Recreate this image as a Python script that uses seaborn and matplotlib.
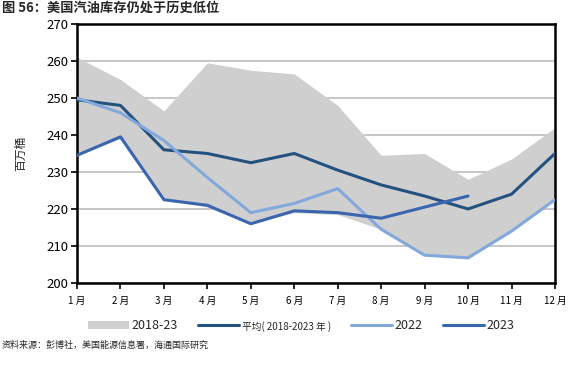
import matplotlib
matplotlib.use("Agg")
import matplotlib.pyplot as plt
import seaborn as sns
import pandas as pd
import numpy as np
from matplotlib.patches import Patch
from matplotlib.lines import Line2D

months = ["1 月", "2 月", "3 月", "4 月", "5 月", "6 月", "7 月", "8 月", "9 月", "10 月", "11 月", "12 月"]
band_high = [261, 255, 246.5, 259.5, 257.5, 256.5, 248, 234.5, 235, 228, 233.5, 242]
band_low = [234.5, 239, 222.5, 220.5, 216, 219, 218.5, 214.5, 207.5, 206.5, 214, 222.5]
avg = [249.5, 248, 236, 235, 232.5, 235, 230.5, 226.5, 223.5, 220, 224, 235]
y2022 = [250, 246, 238.5, 228.5, 219, 221.5, 225.5, 214.5, 207.5, 206.8, 214, 222.5]
y2023 = [234.5, 239.5, 222.5, 221, 216, 219.5, 219, 217.5, 220.5, 223.5]

sns.set_theme(style="white")
plt.rcParams['font.family'] = ['Noto Sans CJK SC', 'DejaVu Sans']

c_band = "#D0CFD0"
c_avg = "#24527F"
c_22 = "#82A8DC"
c_23 = "#3A65AF"

fig = plt.figure(figsize=(5.79, 3.67), dpi=100)
ax = fig.add_axes([0.133, 0.229, 0.8255, 0.7056])

x = np.arange(len(months))
ax.fill_between(x, band_low, band_high, color=c_band, linewidth=0, zorder=1)

df = pd.DataFrame({"x": x, "avg": avg, "y2022": y2022})
df23 = pd.DataFrame({"x": x[:len(y2023)], "y2023": y2023})
sns.lineplot(data=df, x="x", y="avg", ax=ax, color=c_avg, linewidth=2.2, zorder=3)
sns.lineplot(data=df, x="x", y="y2022", ax=ax, color=c_22, linewidth=2.2, zorder=3)
sns.lineplot(data=df23, x="x", y="y2023", ax=ax, color=c_23, linewidth=2.2, zorder=4)

ax.set_xlim(0, 11)
ax.set_ylim(200, 270)
ax.set_yticks(range(200, 271, 10))
ax.set_xticks(x)
ax.set_xticklabels(months, fontsize=7)
ax.tick_params(axis='y', labelsize=9.5, length=4, width=1.2, direction='out', left=True, pad=2, colors='black')
ax.tick_params(axis='x', length=4, width=1.2, direction='out', bottom=True, pad=5, colors='black')
ax.set_xlabel("")
ax.set_ylabel("百万桶", fontsize=8.5, labelpad=14)
ax.yaxis.grid(True, color="#BDBDBD", linewidth=1.2, zorder=0)
ax.set_axisbelow(True)
for s in ax.spines.values():
    s.set_color("black")
    s.set_linewidth(1.8)

handles = [
    Patch(facecolor=c_band, edgecolor='none'),
    Line2D([0], [0], color=c_avg, linewidth=2.2),
    Line2D([0], [0], color=c_22, linewidth=2.2),
    Line2D([0], [0], color=c_23, linewidth=2.2),
]
labels = ["2018-23", "平均( 2018-2023 年 )", "2022", "2023"]
leg = fig.legend(handles, labels, loc='center', bbox_to_anchor=(0.52, 0.112), ncol=4,
                 frameon=False, fontsize=9, handlelength=3.3, handletextpad=0.2, columnspacing=1.6)
for t in leg.get_texts():
    if t.get_text().startswith("平均"):
        t.set_fontsize(7)

fig.text(0.003, 0.978, "图 56：美国汽油库存仍处于历史低位", fontsize=9.5, fontweight='bold', va='center', ha='left')
fig.text(0.003, 0.058, "资料来源：彭博社，美国能源信息署，海通国际研究", fontsize=6.5, va='center', ha='left')

fig.savefig("out.png", dpi=100)
